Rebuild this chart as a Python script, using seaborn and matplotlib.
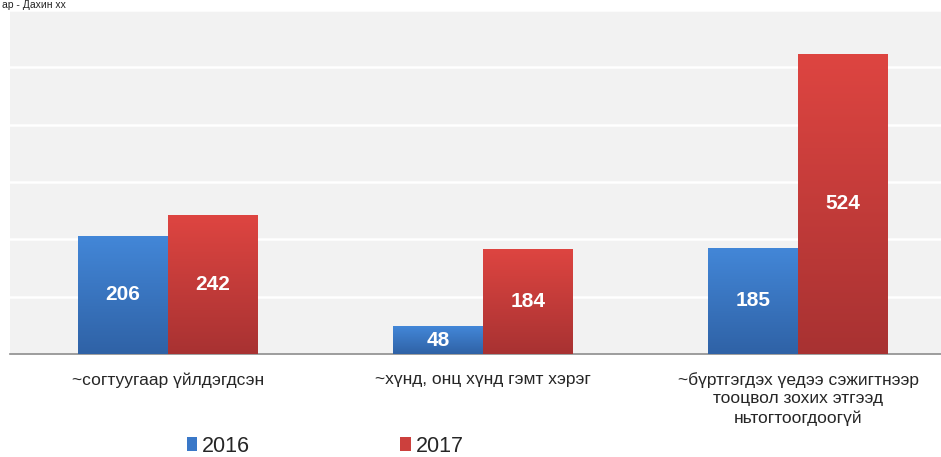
import numpy as np
import pandas as pd
import matplotlib
matplotlib.use("Agg")
import matplotlib.pyplot as plt
import seaborn as sns
from matplotlib.patches import Patch
from matplotlib.colors import LinearSegmentedColormap

categories = ["~согтуугаар үйлдэгдсэн",
              "~хүнд, онц хүнд гэмт хэрэг",
              "~бүртгэгдэх үедээ сэжигтнээр\nтооцвол зохих этгээд\nньтогтоогдоогүй"]
years = ["2016", "2017"]
values_2016 = [206, 48, 185]
values_2017 = [242, 184, 524]

data = pd.DataFrame({
    "category": categories * 2,
    "year": [years[0]] * 3 + [years[1]] * 3,
    "value": values_2016 + values_2017,
})

sns.set_style("white")
plt.rcParams["font.family"] = ["Liberation Sans", "DejaVu Sans"]

fig = plt.figure(figsize=(9.41, 4.57), dpi=100)
ax = fig.add_axes([10 / 941, 103 / 457, 946 / 941, 344 / 457])
ax.set_facecolor("#f2f2f2")

colors = {"2016": "#3a78c8", "2017": "#cc403d"}
grads = {"2016": ("#4387d8", "#2f62a6"), "2017": ("#de4541", "#a83232")}

sns.barplot(data=data, x="category", y="value", hue="year", palette=colors,
            width=0.57, gap=0, ax=ax, legend=False, saturation=1,
            edgecolor="none", zorder=3)

ax.set_yticks(range(0, 601, 100))
ax.set_yticklabels([])
ax.tick_params(axis="y", length=0)
ax.grid(axis="y", color="white", linewidth=1.8, zorder=0)
ax.set_axisbelow(True)

# gradient fill for each bar, plus value label
for i, patch in enumerate(list(ax.patches)):
    yr = years[i // 3]
    x0, y0 = patch.get_x(), patch.get_y()
    w, h = patch.get_width(), patch.get_height()
    cmap = LinearSegmentedColormap.from_list("g", [grads[yr][1], grads[yr][0]])
    grad = np.linspace(0, 1, 256).reshape(-1, 1)
    im = ax.imshow(grad, extent=[x0, x0 + w, y0, y0 + h], origin="lower",
                   cmap=cmap, aspect="auto", zorder=3)
    im.set_clip_path(patch)
    ax.text(x0 + w / 2, y0 + h / 2, str(int(h)), ha="center", va="center",
            color="white", fontsize=15, fontweight="bold", zorder=5)
ax.set_xlim(-0.5, 2.5)
ax.set_ylim(0, 600)

for s in ["top", "right", "left"]:
    ax.spines[s].set_visible(False)
ax.spines["bottom"].set_color("#8c8c8c")
ax.spines["bottom"].set_linewidth(1.2)

ax.set_xticks([-0.5, 0.5, 1.5])
ax.set_xticks([0, 1, 2], minor=True)
ax.set_xticklabels([])
ax.set_xticklabels(categories, minor=True, fontsize=12.5,
                   linespacing=1.3, va="top")
ax.tick_params(axis="x", which="major", length=6, color="#8c8c8c", width=1)
ax.tick_params(axis="x", which="minor", length=0, pad=13)
ax.set_xlabel("")
ax.set_ylabel("")

handles = [Patch(facecolor=colors[y], edgecolor="none", label=y) for y in years]
fig.legend(handles=handles, loc="center", bbox_to_anchor=(325 / 941, 1 - 446 / 457),
           ncol=2, frameon=False, fontsize=15.5, handlelength=0.5, handleheight=0.65,
           handletextpad=0.2, columnspacing=7.0, borderpad=0.1)

fig.text(0.002, 0.999, "ар - Дахин хх", ha="left", va="top", fontsize=7.5,
         color="#222222")

fig.savefig("out.png", dpi=100)
